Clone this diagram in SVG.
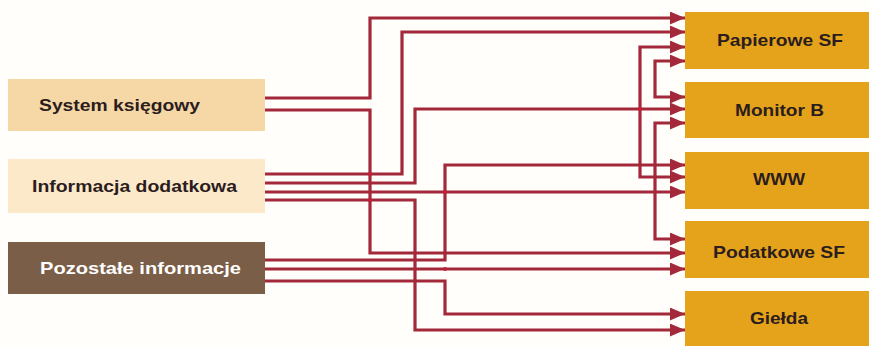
<svg xmlns="http://www.w3.org/2000/svg" width="869" height="346" viewBox="0 0 869 346">
<defs>
<marker id="ah" markerUnits="userSpaceOnUse" markerWidth="16" markerHeight="14" refX="15" refY="6.5" orient="auto">
<path d="M0,0 L15,6.5 L0,13 z" fill="#a3283a"/>
</marker>
<style>
.c{fill:none;stroke:#a3283a;stroke-width:3.2;marker-end:url(#ah)}
.d{fill:#c41f36}
.t{font-family:"Liberation Sans",Arial,sans-serif;font-weight:bold;font-size:16.5px;fill:#2b1d1d}
.r{fill:#e5a31b}
</style>
</defs>
<rect width="869" height="346" fill="#fffefb"/>
<g id="connectors">
<polyline class="c" points="265,98 370,98 370,18 685,18"/>
<polyline class="c" points="265,110 370,110 370,253 685,253"/>
<polyline class="c" points="265,174 402,174 402,32 685,32"/>
<polyline class="c" points="265,183 415,183 415,109 685,109"/>
<polyline class="c" points="265,192 685,192"/>
<polyline class="c" points="265,200 415,200 415,330 685,330"/>
<polyline class="c" points="265,260 445,260 445,165 685,165"/>
<polyline class="c" points="265,269 685,269"/>
<polyline class="c" points="265,281 445,281 445,314 685,314"/>
<polyline class="c" points="640,109 640,47 685,47"/>
<polyline class="c" points="640,109 640,177 685,177"/>
<polyline class="c" points="655,79 655,61 685,61"/>
<polyline class="c" points="655,79 655,97 685,97"/>
<polyline class="c" points="655,181 655,123 685,123"/>
<polyline class="c" points="655,181 655,239 685,239"/>
<circle class="d" cx="370" cy="174" r="2"/>
<circle class="d" cx="370" cy="200" r="2"/>
<circle class="d" cx="445" cy="192" r="2"/>
<circle class="d" cx="640" cy="109" r="2"/>
<circle class="d" cx="445" cy="269" r="2"/>
</g>
<g id="system-ksiegowy">
<rect x="8" y="79" width="257" height="52" fill="#f6d8a7"/>
<text class="t" x="39" y="111" textLength="161" lengthAdjust="spacingAndGlyphs">System księgowy</text>
</g>
<g id="informacja-dodatkowa">
<rect x="8" y="159" width="257" height="54" fill="#fbe9c9"/>
<text class="t" x="32" y="192" textLength="205" lengthAdjust="spacingAndGlyphs">Informacja dodatkowa</text>
</g>
<g id="pozostale-informacje">
<rect x="8" y="242" width="257" height="52" fill="#7b5e47"/>
<text class="t" x="40" y="274" textLength="201" lengthAdjust="spacingAndGlyphs" style="fill:#ffffff">Pozostałe informacje</text>
</g>
<g id="papierowe-sf">
<rect class="r" x="685" y="12" width="184" height="57"/>
<text class="t" x="717" y="46" textLength="126" lengthAdjust="spacingAndGlyphs">Papierowe SF</text>
</g>
<g id="monitor-b">
<rect class="r" x="685" y="82" width="184" height="56"/>
<text class="t" x="735" y="116" textLength="89" lengthAdjust="spacingAndGlyphs">Monitor B</text>
</g>
<g id="www">
<rect class="r" x="685" y="152" width="184" height="57"/>
<text class="t" x="753" y="185" textLength="52" lengthAdjust="spacingAndGlyphs">WWW</text>
</g>
<g id="podatkowe-sf">
<rect class="r" x="685" y="221" width="184" height="57"/>
<text class="t" x="713" y="258" textLength="132" lengthAdjust="spacingAndGlyphs">Podatkowe SF</text>
</g>
<g id="gielda">
<rect class="r" x="685" y="291" width="184" height="55"/>
<text class="t" x="750" y="324" textLength="58" lengthAdjust="spacingAndGlyphs">Giełda</text>
</g>
</svg>
